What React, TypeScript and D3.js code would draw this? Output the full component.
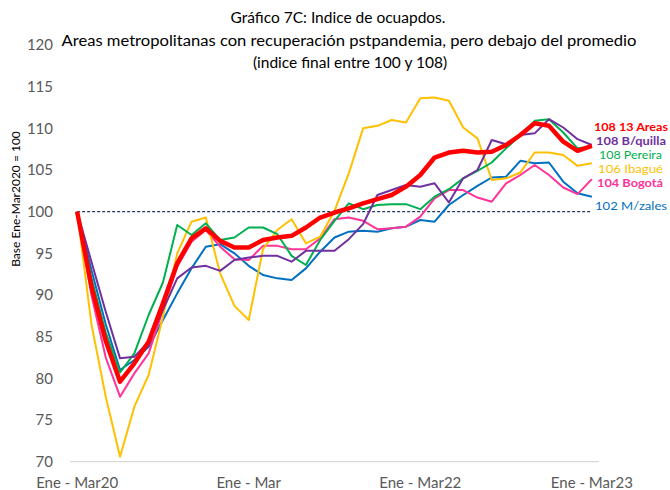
import React from 'react';
import * as d3 from 'd3';

// Indice de ocupados, trimestre movil, base Ene-Mar 2020 = 100
const trece = [100, 91, 84.5, 79.6, 81.8, 84.4, 89, 93.8, 96.8, 98, 96.5, 95.7, 95.7, 96.6, 96.9, 97.1, 98.1, 99.3, 99.9, 100.4, 101, 101.5, 102, 103, 104.4, 106.5, 107.1, 107.3, 107.1, 107.2, 108, 109.2, 110.6, 110.3, 108.4, 107.3, 107.9];
const barranquilla = [100, 94, 88, 82.4, 82.6, 84.4, 88.2, 92, 93.3, 93.5, 92.9, 94.2, 94.5, 94.7, 94.7, 94, 95.3, 95.3, 95.3, 96.7, 98.5, 102, 102.6, 103.2, 103, 103.4, 101.1, 104, 105, 108.6, 108.1, 109.2, 109.4, 111.1, 110.1, 108.7, 108];
const pereira = [100, 92, 85.5, 80.7, 83, 87.6, 91.5, 98.4, 97.2, 98.6, 96.6, 96.9, 98.1, 98.1, 97.3, 94.7, 93.6, 96.6, 98.9, 101, 100.3, 100.8, 100.9, 100.9, 100.3, 101.8, 102.7, 104, 104.9, 105.9, 107.6, 109.2, 110.9, 111.1, 109.5, 107.6, 107.8];
const ibague = [100, 86.5, 77.8, 70.6, 76.6, 80.4, 87.4, 95, 98.8, 99.3, 92.6, 88.7, 87, 95.5, 97.8, 99.1, 96.2, 97, 100.1, 104.6, 110, 110.3, 111, 110.7, 113.6, 113.7, 113.3, 110.1, 108.8, 103.8, 104, 104.7, 107.1, 107.1, 106.8, 105.5, 105.8];
const bogota = [100, 90, 82.5, 77.8, 80.6, 83, 88.2, 93.4, 96.4, 97.8, 95.8, 94.3, 94.2, 95.9, 95.9, 95.5, 95.5, 96.8, 99.1, 99.3, 98.9, 97.9, 98, 98.2, 99.4, 101.6, 102.6, 102.6, 101.7, 101.2, 103.4, 104.4, 105.6, 104.4, 102.9, 102.1, 103.9];
const manizales = [100, 93, 86.5, 81, 82.2, 83.8, 87, 90.2, 93.2, 95.8, 96.1, 95, 93.5, 92.4, 92, 91.8, 93.2, 95.2, 96.9, 97.6, 97.7, 97.6, 98, 98.2, 99, 98.8, 100.8, 102, 103.1, 104.1, 104.2, 106.1, 105.8, 105.9, 103.6, 102.2, 101.8];

const xTickLabels = ['Ene - Mar20', 'Ene - Mar', 'Ene - Mar22', 'Ene - Mar23'];
const xTickIndex = [0, 12, 24, 36];

const seriesNames = ['13 Areas', 'B/quilla', 'Pereira', 'Ibagué', 'Bogotá', 'M/zales'];
const seriesValues = [trece, barranquilla, pereira, ibague, bogota, manizales];
const endLabels = ['108 13 Areas', '108 B/quilla', '108 Pereira', '106 Ibagué', '104 Bogotá', '102 M/zales'];

const colors = ['#ff0000', '#7030a0', '#00b050', '#ffc000', '#ff3399', '#0070c0'];
const widths = [4.5, 2, 2, 2, 2, 2];
const labelY = [127, 141, 155, 169, 183, 206];
const labelX = [594, 596, 599, 598, 597, 595];
const labelW = [74, 70, 63, 65, 66, 72];
const labelBold = [true, true, false, false, true, false];

const W = 670, H = 490;
const font = 'Lato, "Open Sans", sans-serif';

export default function App() {
  const idx = d3.range(trece.length);
  const x = d3.scalePoint<number>().domain(idx).range([70, 599]).padding(0.5);
  const y = d3.scaleLinear().domain([70, 120]).range([461.7, 45]);
  const line = d3.line<number>().x((_, i) => x(i) as number).y(d => y(d));

  // draw red (13 areas) last so it sits on top
  const order = [5, 4, 3, 2, 1, 0];

  return (
    <svg width={W} height={H} style={{ position: 'absolute', left: 0, top: 0, background: '#fff' }} fontFamily={font}>
      <g textAnchor="middle" fill="#000" fontSize={15.5}>
        <text x={338} y={23}>Gráfico 7C: Indice de ocuapdos.</text>
        <text x={349} y={46} textLength={575} lengthAdjust="spacingAndGlyphs">Areas metropolitanas con recuperación pstpandemia, pero debajo del promedio</text>
        <text x={350} y={68}>(indice final entre 100 y 108)</text>
      </g>

      <text transform="translate(20,199) rotate(-90)" textAnchor="middle" fontSize={12} fill="#000">
        Base Ene-Mar2020  = 100
      </text>

      {y.ticks(10).map(t => (
        <text key={t} x={53} y={y(t)} dy="0.35em" textAnchor="end" fontSize={15} fill="#595959">{t}</text>
      ))}

      <line x1={70} x2={599} y1={y(70)} y2={y(70)} stroke="#d9d9d9" strokeWidth={1.3} />
      {xTickIndex.map((k, j) => (
        <text key={k} x={x(k)} y={488} textAnchor="middle" fontSize={15} fill="#595959">{xTickLabels[j]}</text>
      ))}

      <line x1={x(0)} x2={x(idx.length - 1)} y1={y(100)} y2={y(100)} stroke="#1f3864" strokeWidth={1.2} strokeDasharray="3,2" />

      {order.map(s => (
        <path key={seriesNames[s]} d={line(seriesValues[s]) || ''} fill="none" stroke={colors[s]} strokeWidth={widths[s]} strokeLinejoin="round" />
      ))}

      {endLabels.map((l, s) => (
        <text key={l} x={labelX[s]} y={labelY[s]} dy="0.35em" fontSize={12} fontWeight={labelBold[s] ? 700 : 400}
          fill={colors[s]} textLength={labelW[s]} lengthAdjust="spacingAndGlyphs">{l}</text>
      ))}
    </svg>
  );
}
